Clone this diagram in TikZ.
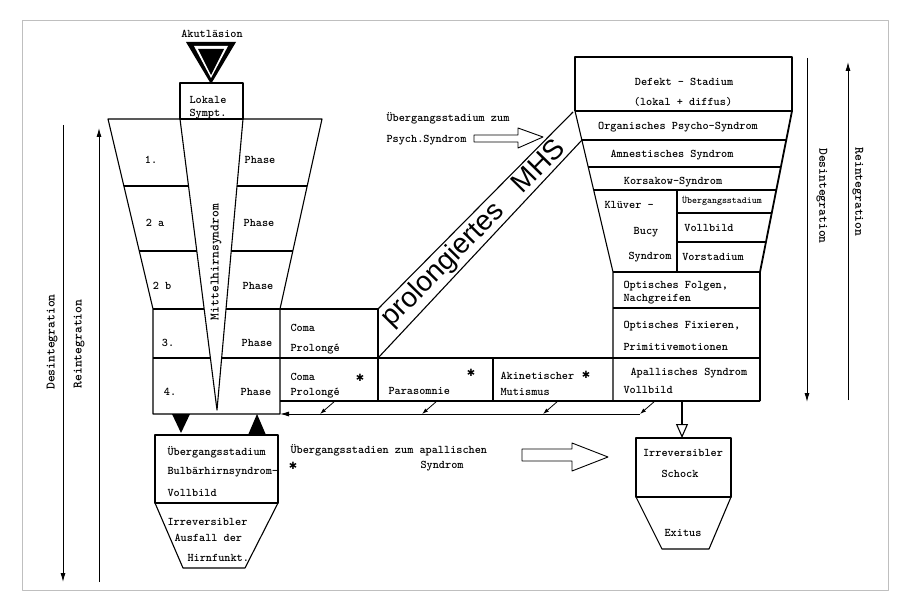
\documentclass[tikz,border=0pt]{standalone}
\usepackage{fontspec}
\newfontfamily\bandfont{Liberation Sans}
\newfontfamily\symfont{DejaVu Sans}
\usetikzlibrary{arrows.meta,calc}

\begin{document}
\begin{tikzpicture}[x=1pt, y=-1pt, line width=1.1pt, line join=round,
    every node/.style={font=\ttfamily\bfseries\fontsize{11.7}{13}\selectfont, inner sep=0pt},
    lbl/.style={anchor=west},
    vert/.style={font=\ttfamily\bfseries\fontsize{13}{14}\selectfont},
    kleintext/.style={font=\ttfamily\bfseries\fontsize{9.5}{11}\selectfont},
    astx/.style={font=\symfont\fontsize{10}{10}\selectfont},
    pfeil/.style={-{Latex[length=9pt,width=5pt]}, line width=0.9pt},
    kpfeil/.style={-{Latex[length=6pt,width=4pt]}, line width=0.8pt}]

    \useasboundingbox (0,0) rectangle (912,612);

    % Frame
    \draw[gray!50, line width=0.6pt] (22,20) rectangle (888,590);

    % Akutlaesion
    \node (akut) at (212,34) {Akutläsion};
    \fill (186,42) -- (236,42) -- (211,84) -- cycle;
    \fill[white] (194,46) -- (228,46) -- (211,78) -- cycle;
    \fill (198,49) -- (224,49) -- (211,75) -- cycle;

    % Lokale Sympt.
    \draw (180,83) rectangle (243,119);
    \node[lbl] (lokale) at (189,100) {Lokale};
    \node[lbl] (sympt) at (189,114) {Sympt.};

    % Left funnel with phases
    \draw (108,119) -- (322,119) -- (280,309) -- (280,414) -- (153,414) -- (153,309) -- cycle;
    \draw (180,119) -- (217,410) -- (243,119);
    \draw (124,186) -- (188.5,186) (237,186) -- (307,186);
    \draw (139,251) -- (197,251) (231,251) -- (293,251);
    \draw (153,309) -- (204,309) (226,309) -- (378,309);
    \draw (153,358) -- (210.5,358) (221.5,358) -- (613,358);
    \node[vert, rotate=90] (mhsyn) at (216,262) {Mittelhirnsyndrom};

    \node (ph1) at (151,160) {1.};
    \node (ph2a) at (155,223) {2 a};
    \node (ph2b) at (162,286) {2 b};
    \node (ph3) at (168,343) {3.};
    \node (ph4) at (170,392) {4.};
    \node (phase1) at (260,160) {Phase};
    \node (phase2a) at (259,223) {Phase};
    \node (phase2b) at (258,286) {Phase};
    \node (phase3) at (257,343) {Phase};
    \node (phase4) at (256,392) {Phase};

    % Triangles below the funnel
    \fill (172,414) -- (190,414) -- (181,433) -- cycle;
    \fill (248,435) -- (266,435) -- (257,414) -- cycle;

    % Bulbaerhirnsyndrom
    \draw (155,435) rectangle (278,503);
    \draw (155,503) -- (183,568) -- (245,568) -- (278,503);
    \node[lbl] (bul1) at (167,452) {Übergangsstadium};
    \node[lbl] (bul2) at (167,472) {Bulbärhirnsyndrom-};
    \node[lbl] (bul3) at (167,493) {Vollbild};
    \node[lbl] (irr1) at (167,522) {Irreversibler};
    \node[lbl] (irr2) at (174,538) {Ausfall der};
    \node[lbl] (irr3) at (187,558) {Hirnfunkt.};

    % Left arrows
    \coordinate (dlo) at (63,125);
    \coordinate (dlu) at (63,582);
    \coordinate (rlu) at (99,582);
    \coordinate (rlo) at (99,128);
    \draw[pfeil] (dlo) -- (dlu);
    \draw[pfeil] (rlu) -- (rlo);
    \node[vert, rotate=90] (desl) at (52,342) {Desintegration};
    \node[vert, rotate=90] (reil) at (79,344) {Reintegration};

    % Middle row
    \draw (378,309) -- (378,401);
    \draw (280,401) -- (613,401);
    \draw (493,358) -- (493,401);
    \node[lbl] (coma1) at (290,328) {Coma};
    \node[lbl] (prol1) at (290,349) {Prolongé};
    \node[lbl] (coma2) at (290,377) {Coma};
    \node[lbl] (prol2) at (290,393) {Prolongé};
    \node[astx] (st1) at (360,378) {✱};
    \node[lbl] (paras) at (388,391) {Parasomnie};
    \node[astx] (st2) at (471,373) {✱};
    \node[lbl] (akin) at (500,376) {Akinetischer};
    \node[lbl] (mutis) at (500,392) {Mutismus};
    \node[astx] (st3) at (586,375) {✱};

    % Prolongiertes MHS band
    \draw (378,309) -- (573,112);
    \draw (378,358) -- (582,140);
    \node[font=\bandfont\fontsize{28}{28}\selectfont, rotate=45.5] (band) at (474,234) {prolongiertes\hspace{0.9em}MHS};

    \node[lbl] (psy1) at (386,118) {Übergangsstadium zum};
    \node[lbl] (psy2) at (386,140) {Psych.Syndrom};
    \draw[line width=0.9pt] (474,135) -- (518,135) -- (518,128) -- (543,137) -- (518,148) -- (518,142) -- (474,142) -- cycle;

    % Right funnel
    \draw (575,111) -- (575,57) -- (792,57) -- (792,111);
    \draw (575,111) -- (792,111);
    \draw (575,111) -- (613,272) -- (613,401);
    \draw[line width=1.8pt] (792,111) -- (760,272) -- (760,401);
    \draw (582,140) -- (786,140);
    \draw (588,167) -- (781,167);
    \draw (594,190) -- (776,190);
    \draw (677,190) -- (677,272);
    \draw (677,213) -- (772,213);
    \draw (677,242) -- (766,242);
    \draw (613,272) -- (760,272);
    \draw (613,308) -- (760,308);
    \draw (613,358) -- (760,358);
    \draw (613,401) -- (760,401);

    \node (defekt) at (684,82) {Defekt - Stadium};
    \node (lokdiff) at (683,102) {(lokal + diffus)};
    \node (orgps) at (678,127) {Organisches Psycho-Syndrom};
    \node (amnes) at (672,155) {Amnestisches Syndrom};
    \node (korsa) at (673,182) {Korsakow-Syndrom};
    \node[lbl] (kluev) at (604,205) {Klüver –};
    \node (bucy) at (646,232) {Bucy};
    \node (kbsyn) at (650,257) {Syndrom};
    \node[kleintext] (kbueb) at (722,201) {Übergangsstadium};
    \node (kbvoll) at (709,228) {Vollbild};
    \node (kbvor) at (713,257) {Vorstadium};
    \node[lbl] (optf1) at (623,286) {Optisches Folgen,};
    \node[lbl] (optf2) at (623,299) {Nachgreifen};
    \node[lbl] (optx1) at (623,326) {Optisches Fixieren,};
    \node[lbl] (optx2) at (623,347) {Primitivemotionen};
    \node[lbl] (apa1) at (630,373) {Apallisches Syndrom};
    \node[lbl] (apa2) at (623,390) {Vollbild};

    % Arrows into the collecting line
    \coordinate (sammelende) at (280,414);
    \coordinate (sammel) at (640,414);
    \coordinate (d1a) at (335,401); \coordinate (d1b) at (320,414);
    \coordinate (d2a) at (437,401); \coordinate (d2b) at (422,414);
    \coordinate (d3a) at (558,401); \coordinate (d3b) at (543,414);
    \coordinate (d4a) at (655,401);
    \draw[pfeil] (sammel) -- (sammelende);
    \draw[kpfeil] (d1a) -- (d1b);
    \draw[kpfeil] (d2a) -- (d2b);
    \draw[kpfeil] (d3a) -- (d3b);
    \draw[kpfeil] (d4a) -- (sammel);

    % Transition to the apallic syndrome
    \node[lbl] (apal1) at (290,450) {Übergangsstadien zum apallischen};
    \node[lbl] (apal2) at (420,466) {Syndrom};
    \node[astx] (st4) at (293,466) {✱};
    \draw[line width=0.9pt] (522,449) -- (572,449) -- (572,443) -- (608,457) -- (572,471) -- (572,461) -- (522,461) -- cycle;

    % Irreversibler Schock / Exitus
    \draw (636,438) rectangle (731,497);
    \draw (636,497) -- (662,549) -- (709,549) -- (731,497);
    \node (schock1) at (683,453) {Irreversibler};
    \node (schock2) at (680,474) {Schock};
    \node (exitus) at (683,533) {Exitus};
    \coordinate (apaunten) at (682,401);
    \coordinate (schockoben) at (682,438);
    \draw[-{Triangle[open, length=14pt, width=12pt]}] (apaunten) -- (schockoben);

    % Right arrows
    \coordinate (dro) at (807,58);
    \coordinate (dru) at (807,402);
    \coordinate (rru) at (848,400);
    \coordinate (rro) at (848,62);
    \draw[pfeil] (dro) -- (dru);
    \draw[pfeil] (rru) -- (rro);
    \node[vert, rotate=-90] (desr) at (822,196) {Desintegration};
    \node[vert, rotate=-90] (reir) at (858,192) {Reintegration};

\end{tikzpicture}
\end{document}
